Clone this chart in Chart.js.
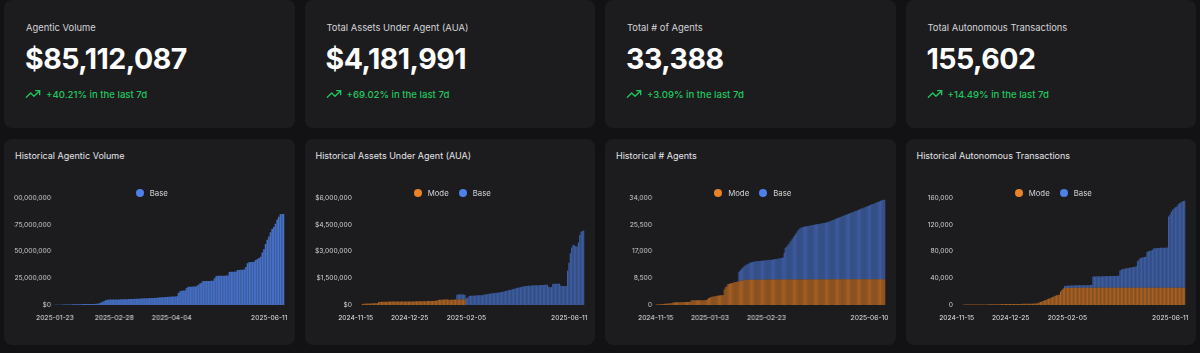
<!DOCTYPE html>
<html lang="en">
<head>
<meta charset="UTF-8">
<title>Agent Dashboard</title>
<script src="https://cdn.jsdelivr.net/npm/chart.js"></script>
<style>
  body { margin:0; background:#121214; font-family:Inter,sans-serif; width:1200px; height:353px; overflow:hidden; position:relative; }
  .row { position:absolute; left:4px; right:4px; display:grid; grid-template-columns:repeat(4,1fr); gap:10px; }
  .top { top:0; height:128px; }
  .bot { top:139px; height:206px; }
  .card { background:#1c1c1f; border-radius:8px; position:relative; overflow:hidden; }
  .lbl { position:absolute; left:22px; top:22px; font-size:9.4px; line-height:12px; color:#d4d4d8; }
  .val { position:absolute; left:21px; top:45px; font-size:28.5px; line-height:28px; font-weight:700; letter-spacing:-0.5px; color:#fff; }
  .chg { position:absolute; left:21px; top:86px; height:16px; display:flex; align-items:center; gap:5px; font-size:9.6px; font-weight:500; color:#22c55e; }
  .ttl { position:absolute; left:11px; top:11px; font-size:9px; line-height:12px; color:#e4e4e7; }
  .lg { position:absolute; left:10px; right:5px; top:48px; height:12px; display:flex; justify-content:center; gap:10px; font-size:7.8px; line-height:12px; color:#d4d4d8; z-index:2; }
  .lg span { display:flex; align-items:center; gap:6px; }
  .lg i { width:8px; height:8px; border-radius:50%; display:block; }
  .cv { position:absolute; left:10px; right:5px; top:50px; height:150px; }
</style>
</head>
<body>
<div class="row top">
  <div class="card"><div class="lbl">Agentic Volume</div><div class="val">$85,112,087</div><div class="chg"></div></div>
  <div class="card"><div class="lbl">Total Assets Under Agent (AUA)</div><div class="val">$4,181,991</div><div class="chg"></div></div>
  <div class="card"><div class="lbl">Total # of Agents</div><div class="val">33,388</div><div class="chg"></div></div>
  <div class="card"><div class="lbl">Total Autonomous Transactions</div><div class="val">155,602</div><div class="chg"></div></div>
</div>
<div class="row bot">
  <div class="card"><div class="ttl">Historical Agentic Volume</div><div class="lg" id="vol-lg"></div><div class="cv"><canvas id="vol"></canvas></div></div>
  <div class="card"><div class="ttl">Historical Assets Under Agent (AUA)</div><div class="lg" id="aua-lg"></div><div class="cv"><canvas id="aua"></canvas></div></div>
  <div class="card"><div class="ttl">Historical # Agents</div><div class="lg" id="agents-lg"></div><div class="cv"><canvas id="agents"></canvas></div></div>
  <div class="card"><div class="ttl">Historical Autonomous Transactions</div><div class="lg" id="tx-lg"></div><div class="cv"><canvas id="tx"></canvas></div></div>
</div>

<script>
  const changes = ["+40.21%", "+69.02%", "+3.09%", "+14.49%"];

  // Agentic volume, $ millions, one bar per day
  const volBase = [
    0.2,0.2,0.3,0.3,0.3,0.4,0.4,0.4,0.5,0.5,
    0.5,0.6,0.6,0.6,0.7,0.7,0.7,0.8,0.8,0.8,
    0.9,0.9,0.9,1.0,1.0,1.1,1.2,1.5,2.2,3.0,
    3.8,4.6,4.9,5.0,5.0,5.1,5.1,5.1,5.2,5.2,
    5.3,5.3,5.3,5.4,5.4,5.5,5.5,5.6,5.6,5.7,
    5.8,5.9,6.0,6.1,6.2,6.2,6.3,6.3,6.4,6.4,
    6.5,6.6,6.8,7.0,7.1,7.2,7.3,7.4,7.5,7.6,
    7.7,7.8,7.9,8.0,8.2,11.2,12.9,13.3,13.5,13.5,
    15.8,17.0,17.0,17.1,17.2,17.3,17.4,18.7,20.0,20.7,
    22.3,22.4,22.4,22.5,22.5,22.6,22.6,25.0,27.0,27.2,
    27.3,27.3,27.4,27.4,27.5,27.5,30.8,31.0,31.0,31.1,
    31.2,32.6,32.8,32.9,33.0,33.1,35.6,39.0,40.0,40.1,
    40.2,40.4,42.0,43.0,44.0,45.0,49.0,52.0,57.0,61.0,
    64.0,68.0,71.0,73.0,76.0,80.0,82.5,84.8,85.0,85.1
  ];
  const volTickIdx = [0, 36, 71, 139];
  const volTickLbl = ["2025-01-23", "2025-02-28", "2025-04-04", "2025-06-11"];

  // Assets under agent, $ millions (170 bars)
  const auaMode = [
    0,0,0,0,0,
    0.06,0.07,0.07,0.08,0.08,0.08,0.08,0.08,0.09,0.09,0.09,0.09,
    0.17,0.17,0.18,0.18,0.18,0.18,0.18,0.18,0.19,0.19,
    0.19,0.19,0.19,0.19,0.19,0.19,0.19,0.20,0.20,0.20,
    0.20,0.20,0.20,0.20,0.20,0.20,0.20,0.21,0.21,0.21,
    0.21,0.21,0.21,0.21,0.21,0.21,0.22,0.22,0.22,0.22,
    0.22,0.22,0.23,0.23,
    0.28,0.29,0.29,0.29,0.30,0.30,0.30,0.30,0.29,0.29,
    0.29,0.29,0.30,0.30,0.31,0.31,0.31,0.31,0.31,0.31,0.30
  ];
  const auaBaseStart = 75;
  const auaBase = [
    0.26,0.28,0.29,0.29,0.28,0.27,0.26,
    0.38,0.40,
    0.50,0.51,0.52,0.52,0.53,0.53,0.54,0.54,0.55,0.55,0.56,0.57,0.58,0.60,
    0.62,0.63,0.64,0.65,0.66,0.67,0.68,0.69,0.70,0.71,0.72,0.74,0.76,0.78,0.80,
    0.82,0.84,0.86,0.88,0.90,0.92,0.94,0.96,0.98,1.00,1.02,1.04,1.05,1.06,1.07,
    1.08,1.08,1.09,1.09,1.10,1.10,1.10,1.11,1.11,1.12,1.12,1.12,1.13,1.13,1.13,
    1.02,1.00,1.01,
    1.18,1.19,1.19,1.19,1.20,1.19,
    1.08,1.07,1.07,1.06,1.07,
    1.93,2.37,2.90,3.23,
    3.37,3.35,3.30,3.28,
    3.50,3.92,4.10,4.15,4.18
  ];
  const auaTickIdx = [0, 40, 82, 169];
  const auaTickLbl = ["2024-11-15", "2024-12-25", "2025-02-05", "2025-06-11"];

  // Number of agents, thousands (208 bars)
  const agentsMode = [
    0.10,0.15,
    0.20,0.22,0.25,0.28,0.30,0.33,0.36,0.40,0.43,0.46,0.50,0.53,0.56,0.60,
    0.85,0.86,0.87,0.88,0.88,0.89,0.90,0.90,0.91,0.92,0.92,0.93,0.94,0.95,0.95,0.96,
    1.45,1.46,1.47,1.47,1.48,1.48,1.49,1.50,1.50,1.51,1.52,1.52,1.53,1.54,1.55,
    2.00,2.20,2.40,2.50,2.60,2.70,2.75,2.80,2.90,2.95,3.00,3.05,
    3.10,3.12,3.14,
    4.90,5.60,5.90,
    6.55,6.70,6.80,6.90,6.95,7.03,
    7.23,7.30,7.36,7.42,7.47,7.52,
    7.65,7.75,7.85,
    8.00,8.02,8.01,8.03,8.00,8.02,8.04,8.01,8.03,8.02,
    8.05,8.03,8.04,8.06,8.03,8.05,8.04,8.06,8.05,8.07,
    8.05,8.06,8.08,8.06,8.07,8.05,8.08,8.07,8.09,8.06,
    8.08,8.07,8.09,8.08,8.10,8.07,8.09,8.08,8.10,8.09,
    8.10,8.08,8.11,8.09,8.10,8.12,8.09,8.11,8.10,8.12,
    8.11,8.13,8.10,8.12,8.11,8.13,8.12,8.10,8.13,8.12,
    8.14,8.12,8.13,8.11,8.14,8.13,8.12,8.14,8.13,8.15,
    8.12,8.14,8.13,8.15,8.14,8.12,8.15,8.14,8.13,8.15,
    8.14,8.16,8.13,8.15,8.14,8.16,8.15,8.13,8.16,8.15,
    8.14,8.16,8.15,8.17,8.14,8.16,8.15,8.17,8.16,8.14,
    8.17,8.15,8.16,8.18,8.15,8.17,8.16,8.18,8.17,8.15,
    8.18,8.16,8.17,8.19,8.16,8.18,8.17,8.19,8.18,8.16,
    8.19,8.17,8.18,8.20,8.17,8.19,8.18,8.20
  ];
  const agentsBaseStart = 75;
  const agentsBase = [
    3.03,3.38,3.65,3.95,4.15,
    4.3,4.6,4.8,5.0,5.2,5.4,5.5,5.6,5.7,
    5.80,5.85,5.90,5.92,5.95,5.98,6.00,6.05,6.08,6.10,6.15,6.18,6.20,6.25,6.28,
    6.30,6.35,6.40,6.45,6.50,6.55,6.60,6.70,6.75,6.85,6.90,7.00,
    8.5,10.0,
    10.3,10.8,11.3,11.8,12.3,12.8,13.3,13.8,14.3,14.8,15.3,15.8,16.2,16.4,
    16.6,16.7,16.75,16.8,16.9,16.95,17.0,17.1,17.15,17.2,17.3,17.35,
    17.4,17.5,17.55,17.6,17.7,17.75,17.8,17.9,17.95,18.0,18.1,18.2,
    18.3,18.4,18.6,18.7,18.9,19.0,19.1,19.3,19.4,19.6,
    19.7,19.8,20.0,20.1,20.3,20.4,20.5,20.7,20.8,21.0,
    21.1,21.2,21.4,21.5,21.7,21.8,21.9,22.1,22.2,22.4,
    22.5,22.6,22.8,22.9,23.1,23.2,23.3,23.5,23.6,23.8,
    23.9,24.0,24.2,24.3,24.5,24.6,24.7,24.9,25.0,25.2,
    25.2,25.3
  ];
  const agentsTickIdx = [0, 49, 100, 207];
  const agentsTickLbl = ["2024-11-15", "2025-01-03", "2025-02-23", "2025-06-10"];

  // Autonomous transactions, thousands (170 bars)
  const txMode = [
    0,0,0,0,0,
    0.50,0.52,0.54,0.56,0.58,0.60,0.62,0.64,0.66,0.68,
    0.70,0.72,0.74,0.76,0.78,0.80,0.82,0.84,0.86,0.88,
    0.90,0.92,0.94,0.96,0.98,1.00,
    1.20,1.22,1.25,1.27,1.30,1.32,1.35,1.37,1.40,1.42,1.45,1.47,
    1.50,1.52,1.55,1.57,1.60,1.62,1.65,1.67,1.70,1.73,1.76,1.80,
    1.85,1.90,2.00,2.10,2.30,2.50,
    3.5,4.4,5.2,6.0,6.8,7.6,8.5,9.3,10.1,10.9,11.8,12.8,13.8,
    14.5,15.0,15.6,
    20.0,22.5,24.8,25.4,
    25.5,25.6,25.5,25.6,25.6,25.5,25.6,25.7,25.6,25.6,
    25.7,25.6,25.6,25.7,25.6,25.7,25.7,25.6,25.7,25.7,
    25.6,25.7,25.7,25.8,25.7,25.6,25.7,25.8,25.7,25.7,
    25.8,25.7,25.7,25.8,25.8,25.7,25.8,25.7,25.8,25.8,
    25.7,25.8,25.8,25.7,25.8,25.8,25.7,25.8,25.8,25.8,
    25.8,25.7,25.8,25.8,25.8,25.7,25.8,25.8,25.8,25.8,
    25.8,25.8,25.7,25.8,25.8,25.8,25.8,25.7,25.8,25.8,
    25.8,25.8,25.8,25.8,25.7,25.8,25.8,25.8,25.8,25.8,
    25.8,25.8,25.8,25.8,25.8,25.8,25.8,25.8,25.8
  ];
  const txBaseStart = 80;
  const txBase = [
    3.0,3.2,3.3,3.4,3.5,3.5,3.6,3.6,3.6,3.7,3.7,3.7,3.8,3.8,3.8,3.9,3.9,3.9,4.0,4.0,4.0,
    16.8,16.9,17.0,17.0,17.1,17.1,17.2,17.2,17.3,17.3,17.4,17.4,17.5,17.5,17.6,17.6,17.7,17.8,17.9,18.0,
    26.0,27.0,
    27.9,28.3,28.7,29.1,29.5,29.9,30.3,30.7,31.1,31.6,32.1,
    39.5,42.0,
    44.5,45.0,45.5,46.0,46.5,
    53.5,54.5,55.0,55.8,56.5,
    59.1,59.2,59.3,59.4,59.5,59.6,59.7,59.8,59.9,60.0,60.1,
    106.5,109.5,113.5,
    116.5,118.5,120.5,121.5,
    124.5,126.5,127.5,
    129.0,129.7,130.1
  ];
  const txTickIdx = [0, 40, 82, 169];
  const txTickLbl = ["2024-11-15", "2024-12-25", "2025-02-05", "2025-06-11"];

  const MODE = { label:"Mode", dot:"#e8832a", bar:"rgba(222,124,38,0.72)" };
  const BASE = { label:"Base", dot:"#4d80e8", bar:"rgba(76,124,222,0.68)" };
  const BASE_SOLO = { label:"Base", dot:"#4d80e8", bar:"rgba(76,124,222,0.9)" };

  // trending-up icon + change text
  document.querySelectorAll(".chg").forEach((el, i) => {
    el.innerHTML = `<svg width="16" height="16" viewBox="0 0 24 24" fill="none" stroke="#22c55e" stroke-width="2" stroke-linecap="round" stroke-linejoin="round"><polyline points="22 7 13.5 15.5 8.5 10.5 2 17"/><polyline points="16 7 22 7 22 13"/></svg><span>${changes[i]} in the last 7d</span>`;
  });

  const pad = (start, arr) => Array(start).fill(null).concat(arr);

  // move the last x label inside the plot, like the original
  const lastTick = {
    id: "lastTick",
    beforeDraw(chart) {
      const items = chart.scales.x.getLabelItems();
      const it = items[items.length - 1];
      it.options.textAlign = "right";
      it.options.translation[0] = chart.chartArea.right + 3;
    }
  };

  const usd = v => "$" + Math.round(v * 1e6).toLocaleString("en-US");
  const thou = v => Math.round(v * 1000).toLocaleString("en-US");

  function panel(id, series, yMax, yStep, fmt, tickIdx, tickLbl) {
    const n = Math.max(...series.map(s => s.data.length));
    document.getElementById(id + "-lg").innerHTML =
      series.map(s => `<span><i style="background:${s.kind.dot}"></i>${s.kind.label}</span>`).join("");
    const tickFont = { family:"Inter", size:6.7 };
    new Chart(document.getElementById(id), {
      type: "bar",
      data: {
        labels: Array.from({ length:n }, (_, i) => i),
        datasets: series.map(s => ({
          label: s.kind.label, data: s.data, backgroundColor: s.kind.bar,
          categoryPercentage: 0.95, barPercentage: 1
        }))
      },
      options: {
        responsive: true, maintainAspectRatio: false, animation: false,
        layout: { padding: { top:9, right:6, bottom:8, left:0 } },
        plugins: { legend: { display:false }, tooltip: { enabled:false } },
        scales: {
          x: {
            stacked: true,
            grid: { display:false, drawTicks:false }, border: { display:false },
            ticks: {
              autoSkip:false, maxRotation:0, minRotation:0, padding:9, color:"#e4e4e7", font:tickFont,
              callback: (v, i) => { const k = tickIdx.indexOf(i); return k < 0 ? "" : tickLbl[k]; }
            },
            afterFit: s => { s.paddingRight = 0; }
          },
          y: {
            stacked: true, min:0, max:yMax,
            grid: { display:false, drawTicks:false }, border: { display:false },
            ticks: { stepSize:yStep, padding:3, color:"#d4d4d8", font:tickFont, callback:fmt },
            afterFit: s => { s.width = 40; }
          }
        }
      },
      plugins: [lastTick]
    });
  }

  panel("vol", [{ kind:BASE_SOLO, data:volBase }], 100, 25, usd, volTickIdx, volTickLbl);
  panel("aua", [{ kind:MODE, data:auaMode }, { kind:BASE, data:pad(auaBaseStart, auaBase) }], 6, 1.5, usd, auaTickIdx, auaTickLbl);
  panel("agents", [{ kind:MODE, data:agentsMode }, { kind:BASE, data:pad(agentsBaseStart, agentsBase) }], 34, 8.5, thou, agentsTickIdx, agentsTickLbl);
  panel("tx", [{ kind:MODE, data:txMode }, { kind:BASE, data:pad(txBaseStart, txBase) }], 160, 40, thou, txTickIdx, txTickLbl);
</script>
</body>
</html>
